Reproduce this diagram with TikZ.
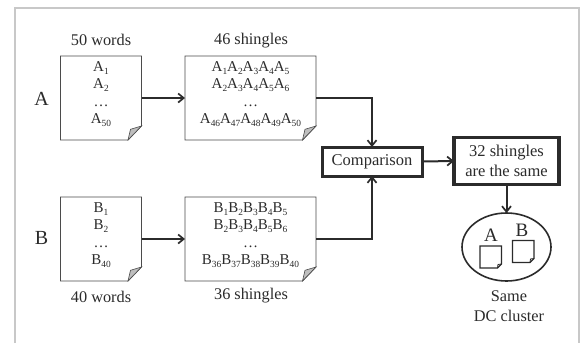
\documentclass[tikz,border=0pt]{standalone}
\usepackage{fontspec}
\setmainfont{Liberation Serif}
\usetikzlibrary{arrows.meta,calc}
\definecolor{ink}{HTML}{2B2B2B}
\definecolor{framec}{HTML}{C8C8C8}
\definecolor{foldc}{HTML}{BEBEBE}
\tikzset{
  x=1pt,y=-1pt,
  every node/.style={text=ink,font=\fontsize{16.3}{19}\selectfont,inner sep=0pt,outer sep=0pt,align=center},
  doc/.style={minimum height=84pt,anchor=north west},
  conn/.style={draw=ink,line width=2pt,-{Straight Barb[length=5.5pt,width=9pt,line width=1.7pt]}},
  thick box/.style={draw=ink,fill=white},
  lab/.style={font=\fontsize{15}{17.4}\selectfont},
}
\newcommand{\sbs}[1]{\raisebox{-2.6pt}{\fontsize{9.4}{9.4}\selectfont #1}}
\newcommand{\paper}[1]{%
  \draw[draw=ink!85,line width=.8pt,fill=white]
    (#1.north west) -- (#1.north east) -- ($(#1.south east)+(0,-14)$) -- ($(#1.south east)+(-13.5,0)$) -- (#1.south west) -- cycle;
  \draw[draw=ink!85,line width=.6pt,fill=foldc]
    ($(#1.south east)+(0,-14)$) -- ($(#1.south east)+(-11,-10.7)$) -- ($(#1.south east)+(-13.5,0)$) -- cycle;}
\newcommand{\mini}[2]{%
  \draw[ink,line width=1.2pt,fill=white] (#1,#2) -- ++(21.5,0) -- ++(0,18) -- ++(-4,4) -- ++(-17.5,0) -- cycle;
  \draw[ink,line width=.8pt] (#1+21.5,#2+18) -- ++(-3.5,.5) -- ++(-.5,3.5);}
\begin{document}
\begin{tikzpicture}
\useasboundingbox (0,0) rectangle (581,343);
\fill[white] (0,0) rectangle (581,343);
\draw[framec,line width=2pt] (14.5,343) -- (14.5,8) -- (579,8) -- (579,343);
% documents
\node[doc,minimum width=81pt] (a1) at (60.5,56) {};
\node[doc,minimum width=131pt] (a2) at (185,56) {};
\node[doc,minimum width=81pt] (b1) at (60.5,197) {};
\node[doc,minimum width=131pt] (b2) at (185,197) {};
\paper{a1}\paper{a2}\paper{b1}\paper{b2}
\node[lab] (a1t) at (101,94) {A\sbs{1}\\A\sbs{2}\\…\\A\sbs{50}};
\node[lab] (a2t) at (250.5,94) {A\sbs{1}A\sbs{2}A\sbs{3}A\sbs{4}A\sbs{5}\\A\sbs{2}A\sbs{3}A\sbs{4}A\sbs{5}A\sbs{6}\\…\\A\sbs{46}A\sbs{47}A\sbs{48}A\sbs{49}A\sbs{50}};
\node[lab] (b1t) at (101,235) {B\sbs{1}\\B\sbs{2}\\…\\B\sbs{40}};
\node[lab] (b2t) at (250.5,235) {B\sbs{1}B\sbs{2}B\sbs{3}B\sbs{4}B\sbs{5}\\B\sbs{2}B\sbs{3}B\sbs{4}B\sbs{5}B\sbs{6}\\…\\B\sbs{36}B\sbs{37}B\sbs{38}B\sbs{39}B\sbs{40}};
% captions
\node (t1) at (101,40) {50 words};
\node (t2) at (251,41) {46 shingles};
\node (t3) at (101,297) {40 words};
\node (t4) at (251,296) {36 shingles};
\node[font=\fontsize{20}{20}\selectfont] (la) at (41.5,99) {A};
\node[font=\fontsize{20}{20}\selectfont] (lb) at (41.5,238) {B};
% boxes
\node[thick box,line width=3pt,minimum width=100pt,minimum height=29pt,font=\fontsize{16.5}{19}\selectfont] (cmp) at (372,161.5) {Comparison};
\node[thick box,line width=3.4pt,minimum width=105pt,minimum height=47pt,font=\fontsize{16.5}{19.5}\selectfont] (same) at (506.5,161) {32 shingles\\are the same};
\draw[ink,line width=1.6pt] (506.5,247) ellipse [x radius=44.5,y radius=34];
\coordinate (cltop) at (506.5,213);
% connectors
\draw[conn,line width=2.5pt] (a1.east) -- (a2.west);
\draw[conn,line width=2.5pt] (b1.east) -- (b2.west);
\draw[conn] (a2.east) -| (cmp.north);
\draw[conn] (b2.east) -| (cmp.south);
\draw[conn] (cmp.east) -- (same.west);
\draw[conn] (same.south) -- (cltop);
% cluster
\mini{480}{246}
\mini{512.5}{240.5}
\node[font=\fontsize{19}{19}\selectfont] (ca) at (491,235) {A};
\node[font=\fontsize{19}{19}\selectfont] (cb) at (522,230) {B};
\node[font=\fontsize{16.3}{20}\selectfont] (cl) at (509,306.5) {Same\\DC cluster};
\end{tikzpicture}
\end{document}
